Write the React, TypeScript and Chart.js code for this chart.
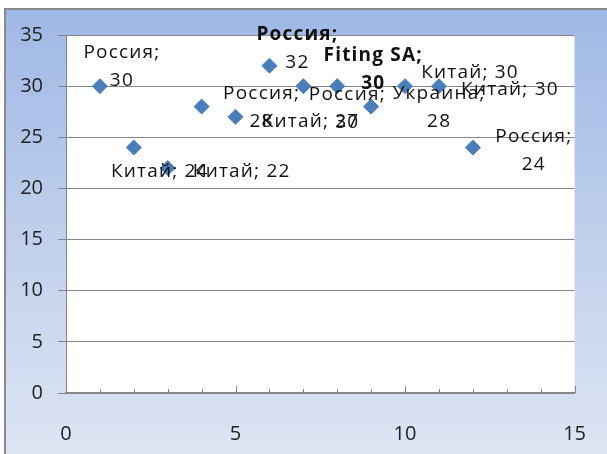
import { useEffect, useRef } from "react";
import { Chart, registerables } from "chart.js";

Chart.register(...registerables);

const xValues = [1, 2, 3, 4, 5, 6, 7, 8, 9, 10, 11, 12];
const yValues = [30, 24, 22, 28, 27, 32, 30, 30, 28, 30, 30, 24];
const labelNames = [
  "Россия",
  "Китай",
  "Китай",
  "Россия",
  "Китай",
  "Россия",
  "Россия",
  "Fiting SA",
  "Украина",
  "Китай",
  "Китай",
  "Россия",
];
const xTickValues = [0, 5, 10, 15];
const yTickValues = [0, 5, 10, 15, 20, 25, 30, 35];

export default function App() {
  const canvasRef = useRef<HTMLCanvasElement | null>(null);

  useEffect(() => {
    document.body.style.margin = "0";
    const canvas = canvasRef.current;
    if (!canvas) return;

    const labelPlacement = [
      { dx: 22, dy: -34, split: true, bold: [false, false] },
      { dx: 26, dy: 24, split: false, bold: [false] },
      { dx: 74, dy: 4, split: false, bold: [false] },
      { dx: 60, dy: -13, split: true, bold: [false, false] },
      { dx: 75, dy: 5, split: false, bold: [false] },
      { dx: 28, dy: -31, split: true, bold: [true, false] },
      { dx: 44, dy: 8, split: true, bold: [false, false] },
      { dx: 36, dy: -31, split: true, bold: [true, true] },
      { dx: 68, dy: -13, split: true, bold: [false, false] },
      { dx: 65, dy: -14, split: false, bold: [false] },
      { dx: 71, dy: 3, split: false, bold: [false] },
      { dx: 61, dy: -11, split: true, bold: [false, false] },
    ];

    const bgPlugin = {
      id: "bg",
      beforeDraw(chart: any) {
        const { ctx, width, height, chartArea } = chart;
        ctx.save();
        ctx.fillStyle = "#ffffff";
        ctx.fillRect(0, 0, width, height);
        const g = ctx.createLinearGradient(0, 9, 0, height);
        g.addColorStop(0, "#9fb8e4");
        g.addColorStop(0.5, "#bfcfec");
        g.addColorStop(1, "#dde5f3");
        ctx.fillStyle = g;
        ctx.fillRect(4, 8, width - 4, height - 8);
        ctx.strokeStyle = "#8a8a8a";
        ctx.lineWidth = 2;
        ctx.beginPath();
        ctx.moveTo(5, height);
        ctx.lineTo(5, 9);
        ctx.lineTo(width, 9);
        ctx.stroke();
        ctx.fillStyle = "#ffffff";
        ctx.fillRect(
          chartArea.left,
          chartArea.top,
          chartArea.right - chartArea.left,
          chartArea.bottom - chartArea.top
        );
        ctx.restore();
      },
    };

    const minorTicksPlugin = {
      id: "minorTicks",
      afterDatasetsDraw(chart: any) {
        const { ctx, chartArea, scales } = chart;
        const xs = scales.x;
        ctx.save();
        ctx.strokeStyle = "#868686";
        ctx.lineWidth = 1;
        for (let v = 1; v <= 15; v++) {
          const px = Math.round(xs.getPixelForValue(v)) + 0.5;
          const len = v % 5 === 0 ? 7 : 4;
          ctx.beginPath();
          ctx.moveTo(px, chartArea.bottom);
          ctx.lineTo(px, chartArea.bottom - len);
          ctx.stroke();
        }
        ctx.restore();
      },
    };

    const labelsPlugin = {
      id: "pointLabels",
      afterDatasetsDraw(chart: any) {
        const { ctx } = chart;
        const meta = chart.getDatasetMeta(0);
        ctx.save();
        ctx.textAlign = "center";
        ctx.textBaseline = "middle";
        ctx.fillStyle = "#111111";
        try {
          (ctx as any).letterSpacing = "1.2px";
        } catch (e) {}
        meta.data.forEach((pt: any, i: number) => {
          const p = labelPlacement[i];
          const lines = p.split
            ? [labelNames[i] + ";", String(yValues[i])]
            : [labelNames[i] + "; " + yValues[i]];
          lines.forEach((line, j) => {
            const bold = p.bold[j];
            ctx.font = (bold ? "bold " : "") + "19px 'Open Sans'";
            ctx.fillText(line, pt.x + p.dx, pt.y + p.dy + j * 28);
          });
        });
        ctx.restore();
      },
    };

    const chart = new Chart(canvas, {
      type: "scatter",
      data: {
        datasets: [
          {
            data: xValues.map((x, i) => ({ x, y: yValues[i] })),
            pointStyle: "rectRot",
            pointRadius: 7.5,
            pointHoverRadius: 7.5,
            backgroundColor: "#4a7ebb",
            borderColor: "#4a7ebb",
            borderWidth: 1,
          },
        ],
      },
      options: {
        responsive: false,
        animation: false,
        events: [],
        layout: { padding: { left: 0, top: 35, right: 26, bottom: 0 } },
        plugins: {
          legend: { display: false },
          tooltip: { enabled: false },
        },
        scales: {
          x: {
            type: "linear",
            min: 0,
            max: 15,
            afterBuildTicks(scale: any) {
              scale.ticks = xTickValues.map((v) => ({ value: v }));
            },
            afterFit(scale: any) {
              scale.height = 61;
            },
            grid: { display: false },
            border: { display: true, color: "#868686", width: 2 },
            ticks: {
              padding: 21,
              color: "#222222",
              font: { family: "'Open Sans'", size: 20 },
              maxRotation: 0,
            },
          },
          y: {
            type: "linear",
            min: 0,
            max: 35,
            afterBuildTicks(scale: any) {
              scale.ticks = yTickValues.map((v) => ({ value: v }));
            },
            afterFit(scale: any) {
              scale.width = 66;
            },
            grid: {
              color: "#868686",
              lineWidth: 1,
              tickLength: 8,
              drawTicks: true,
            },
            border: { display: true, color: "#868686", width: 1 },
            ticks: {
              padding: 15,
              color: "#222222",
              font: { family: "'Open Sans'", size: 20 },
            },
          },
        },
      },
      plugins: [bgPlugin, minorTicksPlugin, labelsPlugin],
    });

    return () => chart.destroy();
  }, []);

  return (
    <div style={{ width: 607, height: 454 }}>
      <canvas ref={canvasRef} width={607} height={454} style={{ display: "block" }} />
    </div>
  );
}
